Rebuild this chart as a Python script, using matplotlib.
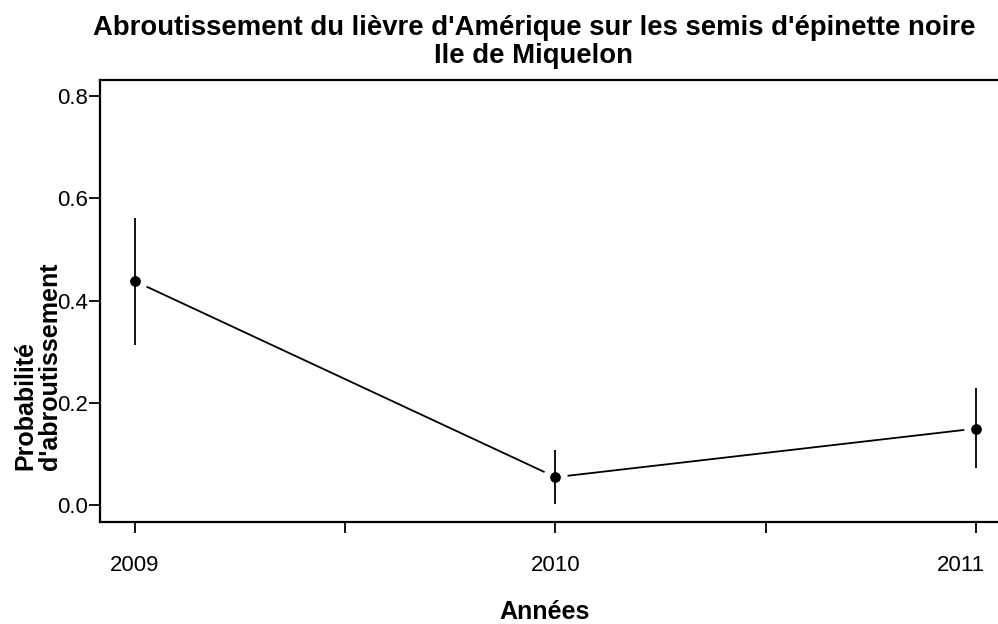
import matplotlib
matplotlib.use('Agg')
import matplotlib.pyplot as plt
import matplotlib.transforms as mtransforms

plt.rcParams['font.family'] = ['Liberation Sans', 'DejaVu Sans']

# Data
years = [2009, 2010, 2011]
prob = [0.438, 0.055, 0.150]
lower = [0.314, 0.003, 0.072]
upper = [0.561, 0.109, 0.230]
minor_years = [2009.5, 2010.5]
y_ticks = [0.0, 0.2, 0.4, 0.6, 0.8]

W, H = 998, 624
fig = plt.figure(figsize=(W / 100, H / 100), dpi=100)
ax = fig.add_axes([100 / W, 102 / H, 898 / W, 442 / H])

# connecting line with gaps around the points (like R type="b")
ax.plot(years, prob, color='black', lw=1.3, zorder=1)
ax.plot(years, prob, 'o', ms=16.6, mfc='white', mec='white', zorder=2)

# error bars and means
ax.vlines(years, lower, upper, color='black', lw=1.3, zorder=3)
ax.plot(years, prob, 'o', ms=6.7, color='black', zorder=4)

ax.set_xlim(2008.9168, 2011.0523)
ax.set_ylim(-0.0326, 0.8312)

ax.set_xticks(years)
ax.set_xticklabels([str(y) for y in years])
ax.set_xticks(minor_years, minor=True)
ax.set_yticks(y_ticks)
ax.set_yticklabels(['%.1f' % v for v in y_ticks])

ax.tick_params(axis='both', which='both', direction='out', length=8, width=1.3, color='black')
ax.tick_params(axis='x', which='both', labelsize=16, pad=16)
ax.tick_params(axis='y', labelsize=16, pad=1)

# last label is pulled in so it stays inside the figure
last = ax.get_xticklabels()[-1]
last.set_transform(last.get_transform() + mtransforms.ScaledTranslation(-15 / 100, 0, fig.dpi_scale_trans))

for side in ['left', 'bottom', 'top']:
    ax.spines[side].set_linewidth(1.6)
    ax.spines[side].set_color('black')
ax.spines['right'].set_visible(False)

fig.text(534 / W, 1 - 42 / H,
         "Abroutissement du lièvre d'Amérique sur les semis d'épinette noire\nIle de Miquelon",
         ha='center', va='center', fontsize=19.8, fontweight='bold', linespacing=1.08)

fig.text(38 / W, 1 - 366 / H, "Probabilité\nd'abroutissement", rotation=90,
         ha='center', va='center', multialignment='left', fontsize=18, fontweight='bold',
         linespacing=1.05)

fig.text(545 / W, 1 - 619 / H, 'Années', ha='center', va='baseline',
         fontsize=18, fontweight='bold')

fig.savefig('out.png', dpi=100, facecolor='white')
